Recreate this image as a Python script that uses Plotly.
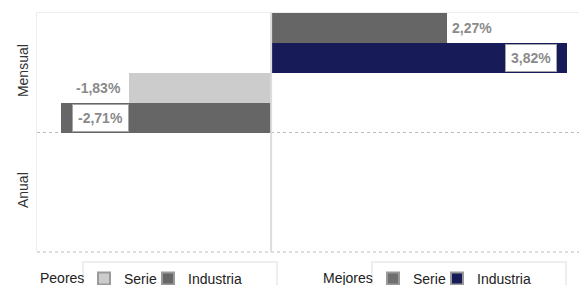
import plotly.graph_objects as go

# ---- data ----
categories = ["Mensual", "Anual"]
mejores_serie = [2.27, None]
mejores_industria = [3.82, None]
peores_serie = [-1.83, None]
peores_industria = [-2.71, None]
series_names = ["Serie", "Industria"]
legend_titles = ["Peores", "Mejores"]

FONT = "Arial, 'Liberation Sans', sans-serif"
LABEL_COLOR = "#8a8a8a"
PAGE_OFFSET = 8  # default body margin of the html page

# (values, name, fill, legend swatch fill, legend id, group)
traces = [
    (mejores_serie, series_names[0], "#666666", "#707070", "legend2", "Mejores"),
    (mejores_industria, series_names[1], "#171b57", "#171b57", "legend2", "Mejores"),
    (peores_serie, series_names[0], "#cccccc", "#cccccc", "legend", "Peores"),
    (peores_industria, series_names[1], "#666666", "#666666", "legend", "Peores"),
]

fig = go.Figure()

n = len(traces)
for vals, name, color, _, _, _ in traces:
    fig.add_trace(go.Bar(
        y=categories, x=vals, orientation="h", name=name,
        marker=dict(color=color, line=dict(width=0)),
        showlegend=False, hoverinfo="skip",
    ))

# legend-only entries on a hidden axis pair
for vals, name, color, swatch, leg, grp in [traces[2], traces[3], traces[0], traces[1]]:
    fig.add_trace(go.Bar(
        x=[None], y=[None], orientation="h", name=name,
        marker=dict(color=swatch, line=dict(color="#9a9a9a", width=2)),
        xaxis="x2", yaxis="y2", legend=leg, showlegend=True, hoverinfo="skip",
    ))
# blank spacer entries so each legend box is wide enough for its texts
for leg in ["legend", "legend2"]:
    fig.add_trace(go.Bar(
        x=[None], y=[None], orientation="h", name=" ",
        marker=dict(color="rgba(0,0,0,0)", line=dict(width=0)),
        xaxis="x2", yaxis="y2", legend=leg, showlegend=True, hoverinfo="skip",
    ))

# value labels
annotations = []
width = 1.0 / n
for i, (vals, name, color, _, _, _) in enumerate(traces):
    offset = -0.5 + width * (i + 0.5)
    is_ind = name == "Industria"
    for j, v in enumerate(vals):
        if v is None:
            continue
        txt = f"{v:.2f}".replace(".", ",") + "%"
        if v >= 0:
            anchor = "right" if is_ind else "left"
            shift = -10 if is_ind else -1
        else:
            anchor = "left" if is_ind else "right"
            shift = 11 if is_ind else -2
        annotations.append(dict(
            x=v, y=j + offset, xref="x", yref="y", text=f"<b>{txt}</b>",
            showarrow=False, xanchor=anchor, yanchor="middle", xshift=shift,
            font=dict(family=FONT, size=14, color=LABEL_COLOR),
            bgcolor="white" if is_ind else "rgba(0,0,0,0)",
            bordercolor="#a5a5a5" if is_ind else "rgba(0,0,0,0)",
            borderwidth=1, borderpad=5,
        ))

# legend titles
annotations.append(dict(text=legend_titles[0], x=0.002, y=-0.107, xref="paper", yref="paper",
                        xanchor="left", yanchor="middle", showarrow=False,
                        font=dict(family=FONT, size=14, color="#222")))
annotations.append(dict(text=legend_titles[1], x=0.5206, y=-0.107, xref="paper", yref="paper",
                        xanchor="left", yanchor="middle", showarrow=False,
                        font=dict(family=FONT, size=14, color="#222")))

legend_style = dict(orientation="h", xanchor="left", yanchor="top", y=-0.037,
                    bgcolor="white", bordercolor="#eeeeee", borderwidth=2,
                    entrywidth=19, entrywidthmode="pixels",
                    font=dict(family=FONT, size=14, color="#222"), traceorder="normal")

fig.update_layout(
    width=587 - PAGE_OFFSET, height=285 - PAGE_OFFSET,
    margin=dict(l=37 - PAGE_OFFSET, r=5, t=13 - PAGE_OFFSET, b=33, autoexpand=False),
    paper_bgcolor="white", plot_bgcolor="white",
    barmode="group", bargap=0, bargroupgap=0,
    font=dict(family=FONT, size=14, color="#333"),
    xaxis=dict(range=[-3.02, 4.01], side="top", showticklabels=False, ticks="",
               showgrid=False, zeroline=False, showline=True, linecolor="#eeeeee",
               linewidth=1, fixedrange=True, automargin=False),
    yaxis=dict(type="category", autorange="reversed", tickson="boundaries",
               showgrid=True, gridcolor="#bbbbbb", griddash="dot", gridwidth=1,
               showline=True, mirror=True, linecolor="#eeeeee", linewidth=1,
               ticks="", tickangle=-90, ticklabelstandoff=2, automargin=False,
               tickfont=dict(family=FONT, size=14, color="#333"), fixedrange=True),
    xaxis2=dict(visible=False, overlaying="x"),
    yaxis2=dict(visible=False, overlaying="y"),
    legend=dict(x=(82 - 37) / 545, **legend_style),
    legend2=dict(x=(371 - 37) / 545, **legend_style),
    shapes=[
        dict(type="line", xref="x", yref="paper", x0=0, x1=0, y0=0, y1=1,
             line=dict(color="#dcdcdc", width=2), layer="above"),
        dict(type="line", xref="paper", yref="paper", x0=0, x1=1, y0=0, y1=0,
             line=dict(color="#bbbbbb", width=1, dash="dot"), layer="below"),
    ],
    annotations=annotations,
)

fig.write_html("out.html")
